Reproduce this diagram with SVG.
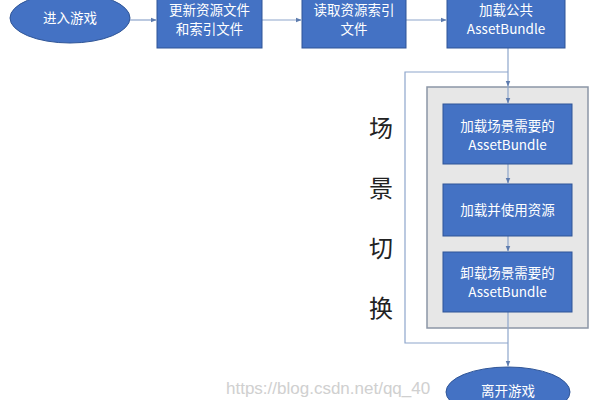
<svg xmlns="http://www.w3.org/2000/svg" width="600" height="400" viewBox="0 0 600 400">
<defs>
<style>
.box{fill:#4472C4;stroke:#2F5597;stroke-width:1}
.ell{fill:#4472C4;stroke:#2F5597;stroke-width:1}
.t{fill:#ffffff;font-family:"Noto Sans CJK SC","Liberation Sans",sans-serif;font-size:13.5px;text-anchor:middle}
.side{fill:#222;font-family:"Noto Sans CJK SC",sans-serif;font-size:24px;text-anchor:middle}
.ln{fill:none;stroke:#8EA6CC;stroke-width:1.2}
.wm{fill:#c8c8c8;font-family:"Liberation Sans",sans-serif;font-size:17px;opacity:0.85}
</style>
<marker id="ah" viewBox="0 0 10 10" refX="9" refY="5" markerWidth="5" markerHeight="5" orient="auto">
<path d="M0,1 L10,5 L0,9 z" fill="#5E7CAE"/>
</marker>
</defs>
<rect width="600" height="400" fill="#ffffff"/>
<g id="scene-container">
<rect x="427" y="87" width="161" height="241" fill="#E7E7E7" stroke="#8C96A6" stroke-width="1.5"/>
</g>
<g id="connectors">
<line class="ln" x1="130" y1="20" x2="156" y2="20" marker-end="url(#ah)"/>
<line class="ln" x1="262" y1="20" x2="301" y2="20" marker-end="url(#ah)"/>
<line class="ln" x1="406" y1="20" x2="446" y2="20" marker-end="url(#ah)"/>
<line class="ln" x1="508" y1="48" x2="508" y2="86" marker-end="url(#ah)"/>
<line class="ln" x1="508" y1="86" x2="508" y2="103" marker-end="url(#ah)"/>
<line class="ln" x1="508" y1="164" x2="508" y2="183" marker-end="url(#ah)"/>
<line class="ln" x1="508" y1="236" x2="508" y2="251" marker-end="url(#ah)"/>
<line class="ln" x1="508" y1="312" x2="508" y2="366" marker-end="url(#ah)"/>
<polyline class="ln" points="508,343 405,343 405,72 508,72"/>
</g>
<g id="n-enter">
<ellipse class="ell" cx="70" cy="18" rx="60" ry="25"/>
<text class="t" x="70" y="23" font-size="14">进入游戏</text>
</g>
<g id="n-update">
<rect class="box" x="157" y="-1" width="105" height="49"/>
<text class="t" x="209.5" y="15">更新资源文件</text>
<text class="t" x="209.5" y="34">和索引文件</text>
</g>
<g id="n-read">
<rect class="box" x="302" y="-1" width="104" height="49"/>
<text class="t" x="354" y="15">读取资源索引</text>
<text class="t" x="354" y="34">文件</text>
</g>
<g id="n-loadcommon">
<rect class="box" x="447" y="-1" width="118" height="49"/>
<text class="t" x="506" y="15">加载公共</text>
<text class="t" x="506" y="34">AssetBundle</text>
</g>
<g id="n-loadscene">
<rect class="box" x="443" y="104" width="129" height="60"/>
<text class="t" x="507.5" y="131">加载场景需要的</text>
<text class="t" x="507.5" y="150">AssetBundle</text>
</g>
<g id="n-use">
<rect class="box" x="443" y="184" width="129" height="52"/>
<text class="t" x="507.5" y="215">加载并使用资源</text>
</g>
<g id="n-unload">
<rect class="box" x="443" y="252" width="129" height="60"/>
<text class="t" x="507.5" y="278">卸载场景需要的</text>
<text class="t" x="507.5" y="297">AssetBundle</text>
</g>
<g id="n-exit">
<ellipse class="ell" cx="508" cy="392" rx="62" ry="25"/>
<text class="t" x="508" y="396" font-size="14">离开游戏</text>
</g>
<g id="side-label">
<text class="side" x="381" y="137">场</text>
<text class="side" x="381" y="197">景</text>
<text class="side" x="381" y="257">切</text>
<text class="side" x="381" y="317">换</text>
</g>
<text class="wm" x="226" y="394">https://blog.csdn.net/qq_40</text>
</svg>
